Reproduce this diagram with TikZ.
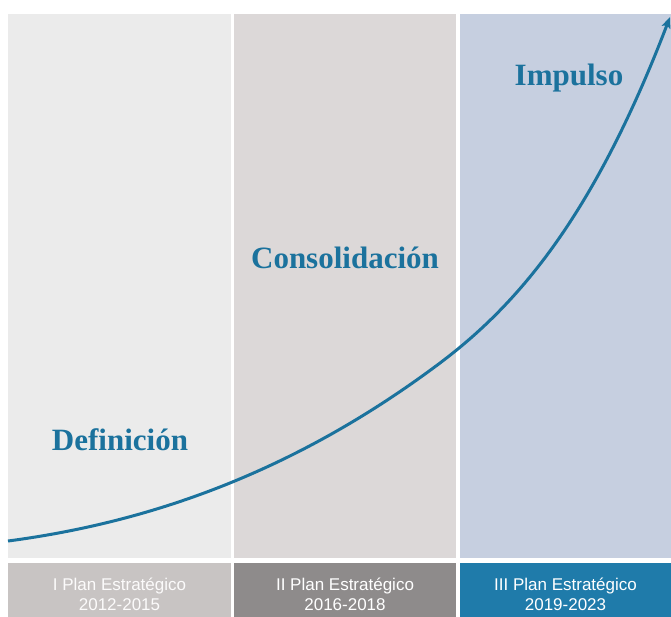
\documentclass[tikz,border=0pt]{standalone}
\usepackage{fontspec}
\setmainfont{Liberation Serif}
\setsansfont{Liberation Sans}
\usepackage{tikz}
\usetikzlibrary{positioning, arrows.meta}
\usepackage{xcolor}

\definecolor{panelA}{HTML}{EBEBEB}
\definecolor{panelB}{HTML}{DCD8D8}
\definecolor{panelC}{HTML}{C6CFE0}
\definecolor{tagA}{HTML}{C8C4C3}
\definecolor{tagB}{HTML}{8E8B8B}
\definecolor{tagC}{HTML}{1F7BAA}
\definecolor{ink}{HTML}{1B729D}

\begin{document}
\begin{tikzpicture}[x=1pt,y=-1pt,node distance=5pt,
    panel/.style={inner sep=0pt,minimum height=544pt},
    tag/.style={inner sep=0pt,minimum height=62pt,align=center,text=white,
        font=\sffamily\fontsize{17}{20}\selectfont},
    phase/.style={anchor=base,text=ink,font=\bfseries\fontsize{31}{36}\selectfont},
    growth/.style={draw=ink,line width=3pt,-{Stealth[length=11pt,width=9pt,inset=2pt]}}]
    \useasboundingbox[fill=white] (0,0) rectangle (671,616);

    \node[panel,fill=panelA,minimum width=223pt] (p1) at (119.5,286) {};
    \node[panel,fill=panelB,minimum width=222pt] (p2) at (345,286) {};
    \node[panel,fill=panelC,minimum width=211pt] (p3) at (565.5,286) {};

    \node[tag,fill=tagA,minimum width=223pt,below=of p1,text=white!94!tagA] (t1) {I Plan Estratégico\\2012-2015};
    \node[tag,fill=tagB,minimum width=222pt,below=of p2] (t2) {II Plan Estratégico\\2016-2018};
    \node[tag,fill=tagC,minimum width=211pt,below=of p3] (t3) {III Plan Estratégico\\2019-2023};

    \node[phase] (def) at (120,450) {Definición};
    \node[phase] (con) at (345,268) {Consolidación};
    \node[phase] (imp) at (569,85) {Impulso};

    \coordinate (start) at (8,541);
    \coordinate (bend) at (440,363);
    \coordinate (tip) at (670,17);
    \draw[growth] (start) .. controls (152,522) and (296,471) .. (bend)
        .. controls (517,305) and (593,218) .. (tip);
\end{tikzpicture}
\end{document}
